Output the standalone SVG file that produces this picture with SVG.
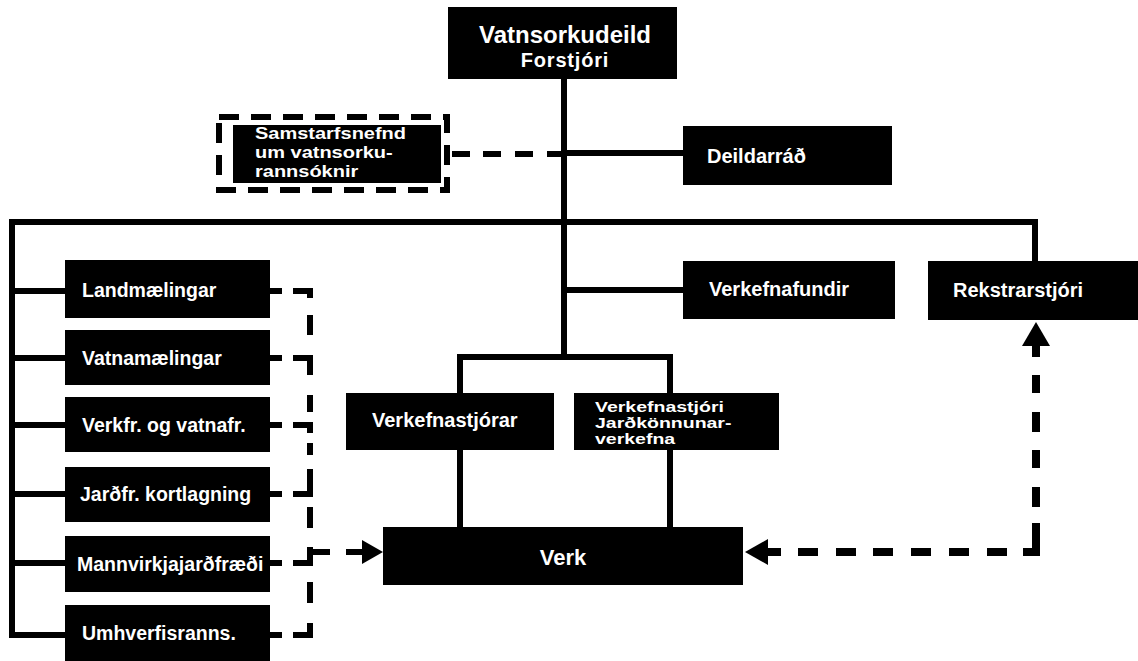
<svg xmlns="http://www.w3.org/2000/svg" width="1138" height="661" viewBox="0 0 1138 661">
<style>
.box{fill:#000}
.t{fill:#fff;font-family:"Liberation Sans",Arial,sans-serif;font-weight:bold;font-size:19.5px}
.s{stroke:#000;stroke-width:6;fill:none;stroke-linecap:butt}
.d{stroke:#000;stroke-width:6;fill:none}
.dr{stroke:#000;stroke-width:8;fill:none}
.ah{fill:#000}
</style>
<rect width="1138" height="661" fill="#fff"/>
<g id="connectors">
  <line class="s" x1="564" y1="79" x2="564" y2="360"/>
  <line class="s" x1="564" y1="153" x2="683" y2="153"/>
  <line class="s" x1="564" y1="290" x2="683" y2="290"/>
  <polyline class="s" points="9,222 1035,222 1035,261"/>
  <line class="s" x1="12" y1="219" x2="12" y2="638"/>
  <line class="s" x1="12" y1="291" x2="65" y2="291"/>
  <line class="s" x1="12" y1="358" x2="65" y2="358"/>
  <line class="s" x1="12" y1="425" x2="65" y2="425"/>
  <line class="s" x1="12" y1="494" x2="65" y2="494"/>
  <line class="s" x1="12" y1="563" x2="65" y2="563"/>
  <line class="s" x1="9" y1="635" x2="65" y2="635"/>
  <polyline class="s" points="460,393 460,357 670,357 670,393"/>
  <line class="s" x1="460" y1="450" x2="460" y2="527"/>
  <line class="s" x1="670" y1="450" x2="670" y2="527"/>
  <g class="d">
    <line x1="452" y1="154" x2="470" y2="154"/>
    <line x1="483" y1="154" x2="501" y2="154"/>
    <line x1="515" y1="154" x2="533" y2="154"/>
    <line x1="547" y1="154" x2="562" y2="154"/>
  </g>
  <g class="d">
    <line x1="270" y1="291" x2="282" y2="291"/>
    <polyline points="293,291 310,291 310,298"/>
    <line x1="310" y1="315" x2="310" y2="335"/>
    <line x1="270" y1="358" x2="282" y2="358"/>
    <polyline points="293,358 310,358 310,375"/>
    <line x1="310" y1="395" x2="310" y2="412"/>
    <line x1="270" y1="425" x2="282" y2="425"/>
    <polyline points="293,425 310,425 310,433"/>
    <line x1="310" y1="443" x2="310" y2="455"/>
    <line x1="270" y1="494" x2="282" y2="494"/>
    <polyline points="293,494 310,494 310,469"/>
    <line x1="310" y1="507" x2="310" y2="528"/>
    <line x1="270" y1="563" x2="282" y2="563"/>
    <polyline points="293,563 310,563 310,547"/>
    <line x1="310" y1="552" x2="330" y2="552"/>
    <line x1="310" y1="582" x2="310" y2="603"/>
    <line x1="270" y1="635" x2="282" y2="635"/>
    <polyline points="293,635 310,635 310,623"/>
    <line x1="346" y1="552" x2="366" y2="552"/>
  </g>
  <polygon class="ah" points="383,552 362,540 362,564"/>
  <g class="dr">
    <line x1="760" y1="552" x2="781" y2="552"/>
    <line x1="798" y1="552" x2="818" y2="552"/>
    <line x1="836" y1="552" x2="856" y2="552"/>
    <line x1="873" y1="552" x2="893" y2="552"/>
    <line x1="911" y1="552" x2="931" y2="552"/>
    <line x1="949" y1="552" x2="969" y2="552"/>
    <line x1="987" y1="552" x2="1007" y2="552"/>
    <polyline points="1023,552 1036,552 1036,540"/>
    <line x1="1036" y1="523" x2="1036" y2="543"/>
    <line x1="1036" y1="487" x2="1036" y2="507"/>
    <line x1="1036" y1="450" x2="1036" y2="468"/>
    <line x1="1036" y1="412" x2="1036" y2="432"/>
    <line x1="1036" y1="375" x2="1036" y2="393"/>
    <line x1="1036" y1="340" x2="1036" y2="357"/>
  </g>
  <polygon class="ah" points="745,552 768,539 768,565"/>
  <polygon class="ah" points="1036,322 1022,346 1050,346"/>
</g>
<g id="vatnsorkudeild">
  <rect class="box" x="448" y="7" width="229" height="72"/>
  <text class="t" x="565" y="43" text-anchor="middle" style="font-size:24px">Vatnsorkudeild</text>
  <text class="t" x="565" y="67" text-anchor="middle" style="font-size:20px;letter-spacing:0.8px">Forstjóri</text>
</g>
<g id="samstarfsnefnd">
  <rect x="219" y="117" width="228" height="73" fill="none" stroke="#000" stroke-width="6" stroke-dasharray="20 12"/>
  <rect class="box" x="233" y="125" width="208" height="58"/>
  <g transform="translate(255,139) scale(1,0.84)">
    <text class="t" x="0" y="0" style="font-size:20px">Samstarfsnefnd</text>
    <text class="t" x="0" y="22.6" style="font-size:20px">um vatnsorku-</text>
    <text class="t" x="0" y="45.2" style="font-size:20px">rannsóknir</text>
  </g>
</g>
<g id="deildarrad">
  <rect class="box" x="683" y="126" width="209" height="59"/>
  <text class="t" x="707" y="163" style="font-size:20px">Deildarráð</text>
</g>
<g id="landmaelingar">
  <rect class="box" x="65" y="260" width="205" height="58"/>
  <text class="t" x="82" y="297">Landmælingar</text>
</g>
<g id="vatnamaelingar">
  <rect class="box" x="65" y="330" width="205" height="55"/>
  <text class="t" x="82" y="365">Vatnamælingar</text>
</g>
<g id="verkfr">
  <rect class="box" x="65" y="397" width="205" height="55"/>
  <text class="t" x="82" y="432">Verkfr. og vatnafr.</text>
</g>
<g id="jardfr">
  <rect class="box" x="65" y="467" width="205" height="55"/>
  <text class="t" x="80" y="501">Jarðfr. kortlagning</text>
</g>
<g id="mannvirkja">
  <rect class="box" x="65" y="536" width="205" height="56"/>
  <text class="t" x="77" y="571">Mannvirkjajarðfræði</text>
</g>
<g id="umhverfis">
  <rect class="box" x="65" y="605" width="205" height="56"/>
  <text class="t" x="82" y="640">Umhverfisranns.</text>
</g>
<g id="verkefnafundir">
  <rect class="box" x="683" y="261" width="212" height="58"/>
  <text class="t" x="709" y="296" style="font-size:20px">Verkefnafundir</text>
</g>
<g id="rekstrarstjori">
  <rect class="box" x="928" y="261" width="210" height="59"/>
  <text class="t" x="953" y="297" style="font-size:20px">Rekstrarstjóri</text>
</g>
<g id="verkefnastjorar">
  <rect class="box" x="346" y="393" width="208" height="57"/>
  <text class="t" x="372" y="427" style="font-size:20px">Verkefnastjórar</text>
</g>
<g id="verkefnastjori-jard">
  <rect class="box" x="574" y="393" width="205" height="57"/>
  <g transform="translate(595,412) scale(1,0.73)">
    <text class="t" x="0" y="0" style="font-size:19.5px">Verkefnastjóri</text>
    <text class="t" x="0" y="21.9" style="font-size:19.5px">Jarðkönnunar-</text>
    <text class="t" x="0" y="43.8" style="font-size:19.5px">verkefna</text>
  </g>
</g>
<g id="verk">
  <rect class="box" x="383" y="527" width="360" height="58"/>
  <text class="t" x="563" y="565" text-anchor="middle" style="font-size:22px">Verk</text>
</g>
</svg>
